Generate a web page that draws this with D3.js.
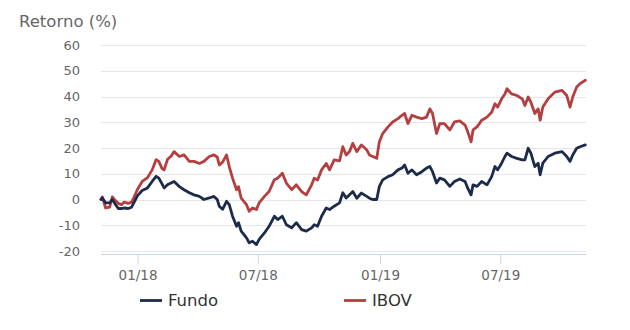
<!DOCTYPE html>
<html><head><meta charset="utf-8">
<script src="https://cdn.jsdelivr.net/npm/d3@7"></script>
<style>html,body{margin:0;padding:0;background:#fff;}svg{display:block;}</style>
</head><body>
<svg id="c" width="630" height="330"></svg>
<script>
const dates = ["2017-11-07","2017-11-09","2017-11-14","2017-11-20","2017-11-24","2017-11-29","2017-12-03","2017-12-08","2017-12-12","2017-12-18","2017-12-23","2017-12-26",
"2018-01-01","2018-01-08","2018-01-16","2018-01-23","2018-01-29","2018-02-02","2018-02-07","2018-02-10","2018-02-15","2018-02-21","2018-02-25",
"2018-03-05","2018-03-12","2018-03-20","2018-03-27","2018-04-04","2018-04-11","2018-04-19","2018-04-26","2018-05-01","2018-05-04","2018-05-09","2018-05-15","2018-05-19","2018-05-24","2018-05-30",
"2018-06-02","2018-06-06","2018-06-14","2018-06-18","2018-06-23","2018-06-29","2018-07-03","2018-07-11","2018-07-18","2018-07-26","2018-07-31","2018-08-07","2018-08-13","2018-08-21","2018-08-28",
"2018-09-05","2018-09-12","2018-09-20","2018-09-24","2018-09-29","2018-10-05","2018-10-12","2018-10-17","2018-10-24","2018-11-01","2018-11-06","2018-11-11","2018-11-16","2018-11-21","2018-11-27",
"2018-12-04","2018-12-12","2018-12-16","2018-12-21","2018-12-27","2018-12-31","2019-01-05","2019-01-13","2019-01-20","2019-01-28","2019-02-03","2019-02-07","2019-02-12","2019-02-18","2019-02-25",
"2019-03-05","2019-03-12","2019-03-17","2019-03-21","2019-03-27","2019-04-01","2019-04-08","2019-04-16","2019-04-23","2019-05-01","2019-05-09","2019-05-13","2019-05-18","2019-05-21","2019-05-27",
"2019-06-03","2019-06-11","2019-06-18","2019-06-23","2019-06-27","2019-07-03","2019-07-08","2019-07-11","2019-07-18","2019-07-26","2019-08-03","2019-08-07","2019-08-12","2019-08-16","2019-08-22","2019-08-27","2019-08-30",
"2019-09-03","2019-09-11","2019-09-21","2019-10-02","2019-10-09","2019-10-14","2019-10-18","2019-10-24","2019-10-29","2019-11-06"];
const fundo = [0,0.6,-1.3,-1.3,0,-2,-3.5,-3.5,-3.3,-3.5,-3,-1.5,
1.5,3.5,4.5,7,9,8.3,6,4.5,5.7,6.5,7,
5,3.8,2.6,1.8,1.2,0,0.6,1.2,0,-2.6,-3.8,-0.7,-2,-6.5,-10.4,
-9,-12.3,-14.9,-16.8,-16.2,-17.5,-15.5,-13,-10.4,-6.5,-7.8,-6.5,-9.8,-11,-9,
-11.7,-12.3,-11,-9.8,-10.4,-6.5,-3.3,-3.9,-2.6,-1.3,2.6,0.6,1.8,3.1,0.5,
2.5,1.2,0.5,0,0,5.1,7.6,8.9,9.6,11.5,12.2,13.4,10.2,11.5,9.6,
10.8,12.2,12.8,10.8,6.4,8.3,7.6,5.1,7,8,7,4.4,1.8,5.7,5.1,
7,5.7,8.9,12.8,11.5,14.1,16.7,18,16.7,16,15.4,15.4,19.9,18,12.8,14.1,9.6,
14.1,16.7,18,18.6,16.7,14.8,17.3,19.9,20.5,21.2];
const ibov = [0,1,-3.3,-3,1,-0.5,-1.5,-2,-1,-1.5,-1,0.5,
4,7,8.5,11.5,15.5,14.8,12,11.5,15.5,17,18.6,
16.7,17.3,14.8,14.8,14,14.8,16.7,17.3,16.5,13.4,14.5,17.3,12.8,8.3,3.8,
5,0.5,-2,-4.6,-3.3,-3.9,-1.3,1.2,3.1,7.7,8.3,10.2,6.4,3.8,5.7,
3.1,1.8,5.7,8.3,7.6,11.5,14,11.5,15.4,15,20.5,17.3,18.6,21.8,18.6,
21.2,19.3,17.3,16.7,16,22.4,25.6,28.2,30.1,31.4,32.7,33.4,29.5,32.7,32,
31.4,32,35.2,33.4,25.6,29.5,29.5,27,30.1,30.5,28.9,26.3,22.4,27,28.2,
30.8,32,33.9,37.2,35.9,39.1,41,43,41,40.4,39.1,36.5,39.8,37.8,33.4,35.2,30.8,
35.9,39.1,41.7,42.4,40.4,35.9,39.8,43.7,45,46.3];
const yTicks = [-20,-10,0,10,20,30,40,50,60];
const xTickDates = ["2018-01-01","2018-07-01","2019-01-01","2019-07-01"];
const seriesNames = ["Fundo","IBOV"];
const colors = ["#1d2b4b","#b33f40"];

const parse = d3.timeParse("%Y-%m-%d");
const svg = d3.select("#c");
const x = d3.scaleTime().domain([parse("2017-11-07"), parse("2019-11-07")]).range([101, 586]);
const y = d3.scaleLinear().domain([-20, 60]).range([251, 45]);

svg.append("g").selectAll("line").data(yTicks).join("line")
  .attr("x1", 101).attr("x2", 586)
  .attr("y1", d => Math.round(y(d)) + 0.5).attr("y2", d => Math.round(y(d)) + 0.5)
  .attr("stroke", "#e6e6e6").attr("stroke-width", 1);

svg.append("g").selectAll("text").data(yTicks).join("text")
  .attr("x", 80).attr("y", d => y(d)).attr("dy", "0.35em")
  .attr("text-anchor", "end").attr("font-family", "DejaVu Sans, sans-serif")
  .attr("font-size", 13).attr("fill", "#666").text(d => d);

const xAxis = d3.axisBottom(x).tickValues(xTickDates.map(parse))
  .tickFormat(d3.timeFormat("%m/%y")).tickSize(10).tickPadding(6);
const gx = svg.append("g").attr("transform", "translate(0,254)").call(xAxis);
gx.select(".domain").attr("stroke", "#ccd6eb").attr("d", "M101,0.5H586");
gx.selectAll(".tick line").attr("stroke", "#ccd6eb");
gx.selectAll(".tick text").attr("font-family", "DejaVu Sans, sans-serif")
  .attr("font-size", 13.5).attr("fill", "#666");

svg.append("text").attr("x", 19).attr("y", 27).attr("font-family", "DejaVu Sans, sans-serif")
  .attr("font-size", 16.5).attr("fill", "#666").text("Retorno (%)");

const data = [fundo, ibov];
const line = d3.line().x((d, i) => x(parse(dates[i]))).y(d => y(d)).curve(d3.curveLinear);
[1, 0].forEach(k => {
  svg.append("path").datum(data[k]).attr("d", line)
    .attr("fill", "none").attr("stroke", colors[k]).attr("stroke-width", 2.8)
    .attr("stroke-linejoin", "round").attr("stroke-linecap", "round");
});

const legX = [140, 344];
seriesNames.forEach((n, k) => {
  svg.append("line").attr("x1", legX[k]).attr("x2", legX[k] + 22).attr("y1", 300.5).attr("y2", 300.5)
    .attr("stroke", colors[k]).attr("stroke-width", 2.8);
  svg.append("text").attr("x", legX[k] + 28).attr("y", 300.5).attr("dy", "0.36em")
    .attr("font-family", "DejaVu Sans, sans-serif").attr("font-size", 16.5)
    .attr("fill", "#333").text(n);
});
</script>
</body></html>
